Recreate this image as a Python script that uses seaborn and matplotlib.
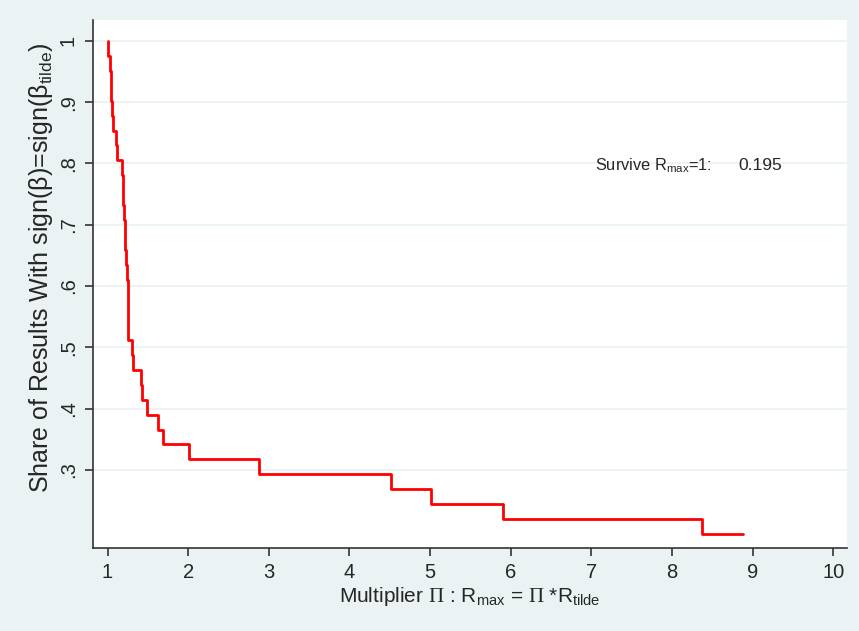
import numpy as np
import pandas as pd
import matplotlib
matplotlib.use("Agg")
import matplotlib.pyplot as plt
import seaborn as sns

# step curve: multiplier where each level starts, and count of results (out of 41) keeping sign
multiplier = [1.000, 1.000, 1.031, 1.040, 1.048, 1.056, 1.072, 1.105, 1.120,
              1.180, 1.188, 1.196, 1.204, 1.212, 1.221, 1.232, 1.238, 1.252,
              1.258, 1.308, 1.320, 1.412, 1.424, 1.494, 1.620, 1.685, 2.015,
              2.880, 4.520, 5.010, 5.900, 8.370, 8.880]
n_same_sign = [41, 40, 39, 38, 37, 36, 35, 34, 33,
               32, 31, 30, 29, 28, 27, 26, 25, 23,
               21, 20, 19, 18, 17, 16, 15, 14, 13,
               12, 11, 10, 9, 8, 8]
n_results = 41
survive_rmax1 = 0.195

y_ticks = [1, .9, .8, .7, .6, .5, .4, .3]
y_tick_labels = ["1", ".9", ".8", ".7", ".6", ".5", ".4", ".3"]
x_ticks = list(range(1, 11))

df = pd.DataFrame({"mult": multiplier,
                   "share": np.array(n_same_sign) / n_results})

BG = "#EAF2F3"
sns.set_theme(style="white")
plt.rcParams["font.family"] = ["Liberation Sans", "DejaVu Sans"]
plt.rcParams["mathtext.fontset"] = "custom"
plt.rcParams["mathtext.rm"] = "Liberation Sans"
plt.rcParams["mathtext.it"] = "Liberation Sans:italic"
plt.rcParams["mathtext.sf"] = "Liberation Serif"

fig = plt.figure(figsize=(8.59, 6.31), dpi=100, facecolor=BG)
ax = fig.add_axes([0.1083, 0.1323, 0.8777, 0.836])
ax.set_facecolor("white")

sns.lineplot(data=df, x="mult", y="share", ax=ax, estimator=None, sort=False,
             drawstyle="steps-post", color="#FF0000", linewidth=2.0, zorder=3)

ax.set_xlim(0.82, 10.17)
ax.set_ylim(0.1733, 1.034)
ax.set_xticks(x_ticks)
ax.set_xticklabels([str(t) for t in x_ticks], fontsize=14.5)
ax.set_yticks(y_ticks)
ax.set_yticklabels(y_tick_labels, fontsize=14.5, rotation=90, va="center")
ax.tick_params(axis="both", direction="out", length=6, width=1.2,
               color="#333333", pad=5, bottom=True, left=True)
ax.grid(axis="y", color=BG, linewidth=1.3)
ax.grid(axis="x", visible=False)

for side in ["top", "right"]:
    ax.spines[side].set_visible(False)
for side in ["left", "bottom"]:
    ax.spines[side].set_color("#333333")
    ax.spines[side].set_linewidth(1.2)

ax.set_xlabel(r"Multiplier $\mathsf{\Pi}$ : R$_{\mathrm{max}}$ = $\mathsf{\Pi}$ *R$_{\mathrm{tilde}}$",
              fontsize=15, labelpad=2)
ax.set_ylabel(r"Share of Results With sign(β)=sign(β$_{\mathrm{tilde}}$)",
              fontsize=18)
ax.yaxis.set_label_coords(-0.05, 0.53)

ax.text(7.05, 0.797, r"Survive R$_{\mathrm{max}}$=1:", fontsize=11.8, va="center", ha="left")
ax.text(8.82, 0.797, f"{survive_rmax1:.3f}", fontsize=12.5, va="center", ha="left")

fig.savefig("out.png", dpi=100, facecolor=BG)
